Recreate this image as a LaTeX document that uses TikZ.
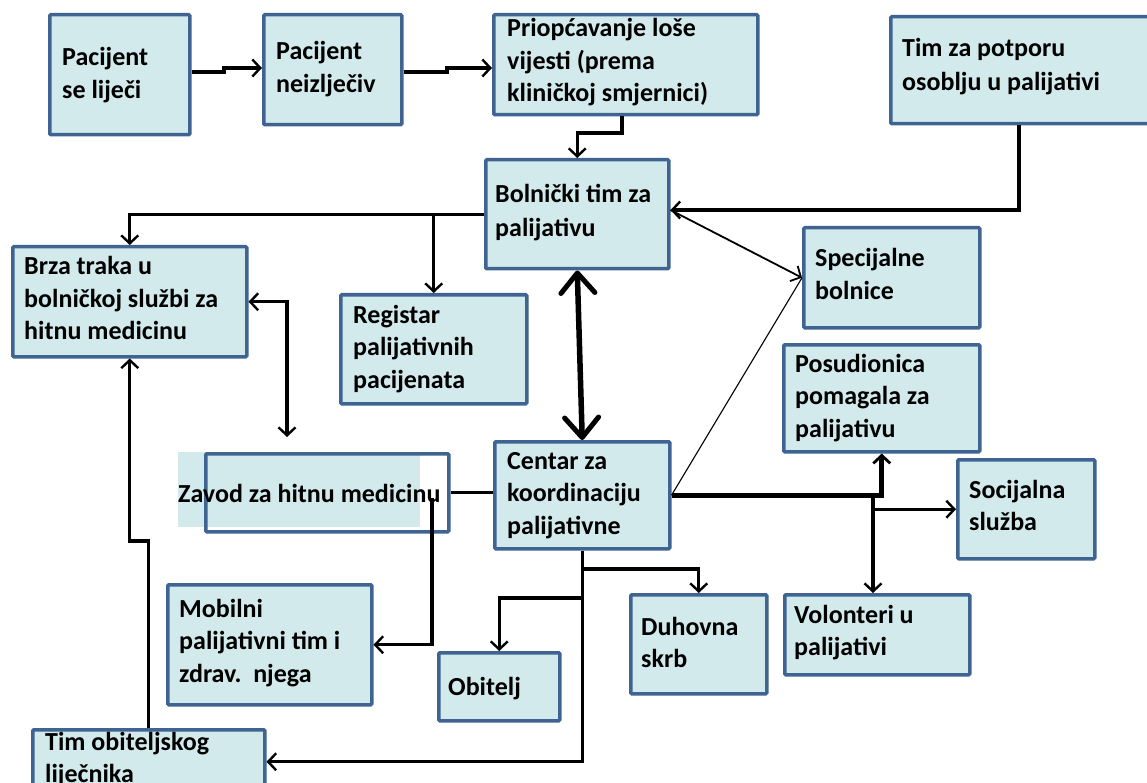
\documentclass[tikz,border=0pt]{standalone}
\usepackage{fontspec}
\setmainfont{Carlito}
\usetikzlibrary{arrows.meta,calc}
\definecolor{bfill}{RGB}{210,234,236}
\definecolor{bdraw}{RGB}{63,100,146}
\newcommand\lns[1]{\begin{tabular}[t]{@{}l@{}}#1\end{tabular}}
\begin{document}
\begin{tikzpicture}[x=1pt,y=-1pt,
  box/.style={draw=bdraw,fill=bfill,line width=3.5pt,rounded corners=1pt,inner sep=0pt,anchor=north west},
  bgbox/.style={fill=bfill,inner sep=0pt,anchor=north west},
  frame/.style={draw=bdraw,line width=3.5pt,rounded corners=1pt,inner sep=0pt,anchor=north west},
  txt/.style={anchor=base west,inner sep=0pt,font=\fontsize{26}{32.5}\selectfont\bfseries},
  txtw/.style={anchor=base west,inner sep=0pt,font=\fontsize{26}{34}\selectfont\bfseries},
  conn/.style={line width=3.2pt,-{Straight Barb[length=8pt,width=17pt,line width=2.4pt]}},
  dconn/.style={line width=3.2pt,{Straight Barb[length=8pt,width=17pt,line width=2.4pt]}-{Straight Barb[length=8pt,width=17pt,line width=2.4pt]}},
  thinconn/.style={line width=1.8pt,-{Straight Barb[length=8pt,width=17pt,line width=1.8pt]}},
  hairline/.style={line width=1.1pt},
  plain/.style={line width=3.2pt},
  heavy/.style={line width=5pt,-{Straight Barb[length=8pt,width=17pt,line width=2.8pt]}},
  bigarr/.style={line width=5.5pt,{Straight Barb[length=20pt,width=34pt,line width=5pt,round]}-{Straight Barb[length=20pt,width=34pt,line width=5pt,round]}}
]
\useasboundingbox (0,0) rectangle (1147,783);
\fill[white] (0,0) rectangle (1147,783);
\clip (0,0) rectangle (1147,783);

% boxes
\node[box,minimum width=140pt,minimum height=120pt] (p1) at (48,13) {};
\node[box,minimum width=138pt,minimum height=110pt] (p2) at (262,13) {};
\node[box,minimum width=264pt,minimum height=100pt] (prio) at (492,13) {};
\node[box,minimum width=276pt,minimum height=107pt] (tim) at (889,15) {};
\node[box,minimum width=183pt,minimum height=109pt] (bol) at (484,158) {};
\node[box,minimum width=234pt,minimum height=110pt] (brza) at (11,245) {};
\node[box,minimum width=186pt,minimum height=109pt] (reg) at (339,293) {};
\node[box,minimum width=176pt,minimum height=100pt] (spec) at (802,226) {};
\node[box,minimum width=196pt,minimum height=107pt] (pos) at (782,343) {};
\node[box,minimum width=175pt,minimum height=107pt] (cen) at (493,440) {};
\node[bgbox,minimum width=242pt,minimum height=75pt] (zavbg) at (178,452) {};
\node[frame,minimum width=243pt,minimum height=78pt] (zav) at (204,452) {};
\node[box,minimum width=137pt,minimum height=99pt] (soc) at (956,458) {};
\node[box,minimum width=204pt,minimum height=120pt] (mob) at (166,583) {};
\node[box,minimum width=121pt,minimum height=68pt] (obi) at (437,651) {};
\node[box,minimum width=136pt,minimum height=99pt] (duh) at (629,593) {};
\node[box,minimum width=185pt,minimum height=80pt] (vol) at (783,593) {};
\node[box,minimum width=232pt,minimum height=64pt] (tob) at (31,728) {};

% bend coordinates
\coordinate (a1) at (224,72); \coordinate (a2) at (224,68);
\coordinate (b1) at (447,72); \coordinate (b2) at (447,68);
\coordinate (c1) at (622,133);
\coordinate (d1) at (1019,210);
\coordinate (f1) at (287,437);
\coordinate (g1) at (127,541);
\coordinate (h1) at (432,498);
\coordinate (j1) at (873,493);
\coordinate (k1) at (0,569);
\coordinate (k2) at (0,598);

% connectors
\draw[conn] (p1.east |- a1) -- (a1) -- (a2) -- (p2.west |- a2);
\draw[conn] (p2.east |- b1) -- (b1) -- (b2) -- (prio.west |- b2);
\draw[conn] (c1 |- prio.south) -- (c1) -| (bol.north);
\draw[conn] (d1 |- tim.south) -- (d1) -- (bol.east |- d1);
\draw[thinconn] (bol.east |- d1) -- (spec.west);
\draw[hairline] (cen.east) -- (spec.west);
\draw[conn] (bol.west) -| (brza.north);
\draw[conn] (reg.north |- bol.west) -- (reg.north);
\draw[dconn] (brza.east) -| (f1);
\draw[conn] (tob.north) |- (brza.south |- g1) -- (brza.south);
\draw[plain] (zav.east) -- (cen.west |- zav.east);
\draw[conn] (h1) |- (mob.east);
\draw[bigarr] (bol.south) -- (cen.north);
\draw[heavy] (cen.east) -| (pos.south);
\draw[conn] (j1) -- (j1 |- vol.north);
\draw[conn] (j1 |- soc.west) -- (soc.west);
\draw[conn] (cen.south) |- (tob.east);
\draw[conn] (cen.south |- k1) -| (duh.north);
\draw[conn] (cen.south |- k2) -| (obi.north);

% texts
\node[txt] (p1t) at (62,66) {\lns{Pacijent\\se liječi}};
\node[txt] (p2t) at (276,60) {\lns{Pacijent\\neizlječiv}};
\node[txt] (priot) at (507,37) {\lns{Priopćavanje loše\\vijesti (prema\\kliničkoj smjernici)}};
\node[txtw] (timt) at (902,57) {\lns{Tim za potporu\\osoblju u palijativi}};
\node[txtw] (bolt) at (495,203) {\lns{Bolnički tim za\\palijativu}};
\node[txt] (brzat) at (24,275) {\lns{Brza traka u\\bolničkoj službi za\\hitnu medicinu}};
\node[txt] (regt) at (353,323) {\lns{Registar\\palijativnih\\pacijenata}};
\node[txt] (zavt) at (178,502) {Zavod za hitnu medicinu};
\node[txt] (cent) at (507,469) {\lns{Centar za\\koordinaciju\\palijativne}};
\node[txt] (spect) at (815,267) {\lns{Specijalne\\bolnice}};
\node[txt] (post) at (795,372) {\lns{Posudionica\\pomagala za\\palijativu}};
\node[txt] (soct) at (969,498) {\lns{Socijalna\\služba}};
\node[txt] (mobt) at (179,617) {\lns{Mobilni\\palijativni tim i\\zdrav.\ \ njega}};
\node[txt] (obit) at (448,695) {Obitelj};
\node[txt] (duht) at (641,635) {\lns{Duhovna\\skrb}};
\node[txt] (volt) at (794,623) {\lns{Volonteri u\\palijativi}};
\node[txt] (tobt) at (45,750) {\lns{Tim obiteljskog\\liječnika}};
\end{tikzpicture}
\end{document}
